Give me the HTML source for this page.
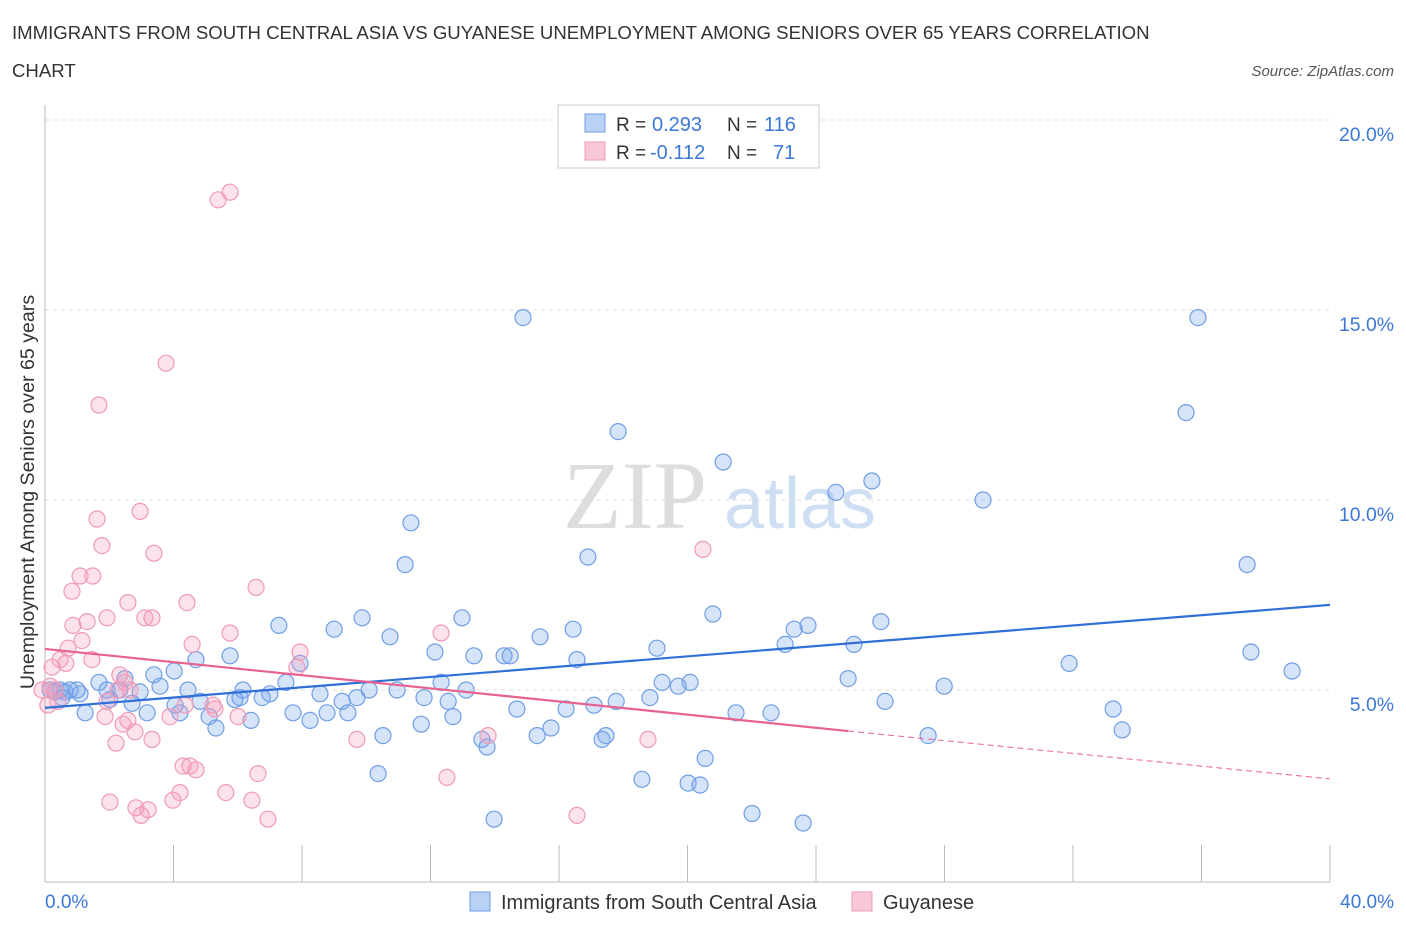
<!DOCTYPE html>
<html><head><meta charset="utf-8"><style>
body{margin:0;background:#fff;font-family:"Liberation Sans",sans-serif}
</style></head><body>
<svg width="1406" height="930" xmlns="http://www.w3.org/2000/svg">
<text x="12" y="39" font-size="18.6" fill="#333">IMMIGRANTS FROM SOUTH CENTRAL ASIA VS GUYANESE UNEMPLOYMENT AMONG SENIORS OVER 65 YEARS CORRELATION</text>
<text x="12" y="77" font-size="18.6" fill="#333">CHART</text>
<text x="1394" y="76" font-size="15" fill="#555" font-style="italic" text-anchor="end">Source: ZipAtlas.com</text>
<text x="635" y="528" font-size="96" fill="#ddd" font-family="Liberation Serif,serif" text-anchor="middle">ZIP</text>
<text x="800" y="528" font-size="72" fill="#cfdff3" text-anchor="middle">atlas</text>
<g id="grid"></g><g id="axes"></g><g id="pts"></g><g id="trend"></g>
<text transform="translate(34,492) rotate(-90)" font-size="19.6" fill="#333" text-anchor="middle">Unemployment Among Seniors over 65 years</text>
<text x="45" y="908" font-size="19" fill="#3b78d8">0.0%</text>
<text x="1394" y="908" font-size="19" fill="#3b78d8" text-anchor="end">40.0%</text>
<g>
<rect x="558" y="105" width="261" height="63" fill="#fff" stroke="#ccc"/>
<rect x="585" y="114" width="20" height="18" fill="#b9d1f5" stroke="#6f9ee6"/>
<text x="616" y="131" font-size="19" fill="#333">R =</text>
<text x="652" y="131" font-size="20" fill="#3b78d8">0.293</text>
<text x="727" y="131" font-size="19" fill="#333">N =</text>
<text x="764" y="131" font-size="20" fill="#3b78d8">116</text>
<rect x="585" y="142" width="20" height="18" fill="#f9c8d7" stroke="#f09ab5"/>
<text x="616" y="159" font-size="19" fill="#333">R =</text>
<text x="650" y="159" font-size="20" fill="#3b78d8">-0.112</text>
<text x="727" y="159" font-size="19" fill="#333">N =</text>
<text x="773" y="159" font-size="20" fill="#3b78d8">71</text>
</g>
<g>
<rect x="470" y="892" width="20" height="19" fill="#b9d1f5" stroke="#6f9ee6"/>
<text x="501" y="909" font-size="20" fill="#333">Immigrants from South Central Asia</text>
<rect x="852" y="892" width="20" height="19" fill="#f9c8d7" stroke="#f09ab5"/>
<text x="883" y="909" font-size="20" fill="#333">Guyanese</text>
</g>
</svg>
<script>
const yTicks=[5,10,15,20];
const xTicks=[0,4,8,12,16,20,24,28,32,36,40];
const blueX=[14.88,35.89,35.52,17.84,21.11,25.74,24.62,29.2,11.39,11.21,16.9,37.42,20.79,26.02,9.87,12.98,7.28,9.0,10.74,15.41,16.44,23.75,23.32,19.05,23.04,25.18,37.54,38.82,31.88,12.14,13.35,14.29,14.48,16.56,5.76,4.7,4.02,3.39,2.49,1.68,7.94,25.0,27.99,20.08,19.71,19.21,12.33,13.11,10.09,10.96,7.5,6.16,7.0,6.76,8.56,9.71,9.25,11.8,12.55,17.78,17.09,18.83,14.69,16.22,26.15,33.25,21.51,22.6,8.78,9.43,7.72,8.25,5.11,6.41,5.32,11.71,12.7,10.52,13.6,13.76,15.32,15.75,17.34,17.46,27.49,33.53,20.55,10.37,18.58,20.02,20.39,22.01,23.6,13.98,4.45,4.83,3.58,2.96,2.71,2.33,1.93,1.09,1.0,0.78,0.62,0.47,0.31,0.16,1.25,0.53,2.02,3.18,4.05,4.2,5.91,6.07];
const blueY=[14.8,14.8,12.3,11.8,11.0,10.5,10.2,10.0,9.4,8.3,8.5,8.3,7.0,6.8,6.9,6.9,6.7,6.6,6.4,6.4,6.6,6.7,6.6,6.1,6.2,6.2,6.0,5.5,5.7,6.0,5.9,5.9,5.9,5.8,5.9,5.8,5.5,5.4,5.3,5.2,5.7,5.3,5.1,5.2,5.1,5.2,5.2,5.0,5.0,5.0,5.2,5.0,4.9,4.8,4.9,4.8,4.7,4.8,4.7,4.7,4.6,4.8,4.5,4.5,4.7,4.5,4.4,4.4,4.4,4.4,4.4,4.2,4.3,4.2,4.0,4.1,4.3,3.8,3.7,3.5,3.8,4.0,3.7,3.8,3.8,3.95,3.2,2.8,2.65,2.55,2.5,1.75,1.5,1.6,5.0,4.7,5.1,4.95,4.65,5.0,5.0,4.9,5.0,5.0,4.95,5.0,4.95,5.0,4.4,4.8,4.75,4.4,4.6,4.4,4.75,4.8];
const pinkX=[5.39,5.76,3.77,1.68,2.96,1.62,3.39,1.77,20.48,6.57,1.09,1.49,0.84,2.58,4.42,1.93,3.11,3.33,1.31,0.87,5.76,12.33,4.58,1.15,0.72,0.47,7.94,1.46,7.84,0.65,2.33,2.49,0.22,0.31,0.4,2.27,2.65,0.09,1.87,2.58,3.89,6.01,5.23,1.93,2.8,2.43,4.36,3.33,2.21,9.71,13.79,18.77,4.3,4.51,4.7,6.63,12.51,5.63,6.44,2.02,3.98,4.2,2.83,3.21,2.99,6.94,16.56,-0.09,0.16,5.29];
const pinkY=[17.9,18.1,13.6,12.5,9.7,9.5,8.6,8.8,8.7,7.7,8.0,8.0,7.6,7.3,7.3,6.9,6.9,6.9,6.8,6.7,6.5,6.5,6.2,6.3,6.1,5.8,6.0,5.8,5.6,5.7,5.4,5.2,5.6,5.0,4.7,5.0,5.0,4.6,4.3,4.2,4.3,4.3,4.6,4.7,3.9,4.1,4.6,3.7,3.6,3.7,3.8,3.7,3.0,3.0,2.9,2.8,2.7,2.3,2.1,2.05,2.1,2.3,1.9,1.85,1.7,1.6,1.7,5.0,5.1,4.5];
const ns="http://www.w3.org/2000/svg";
const X0=45,X1=1330,Y0=880,YS=38;
function sx(v){return X0+(v/40)*(X1-X0);}
function sy(v){return Y0-v*YS;}
function mk(t,a,p){const e=document.createElementNS(ns,t);for(const k in a)e.setAttribute(k,a[k]);document.getElementById(p).appendChild(e);return e;}
yTicks.forEach(t=>{
 const l=mk('line',{x1:X0,x2:1330,y1:sy(t),y2:sy(t),stroke:'#ddd','stroke-dasharray':'4,4'},'grid');
 
 
 const tx=mk('text',{x:1394,y:sy(t)+21,'font-size':19.4,fill:'#3b78d8','text-anchor':'end'},'grid');
 tx.textContent=t.toFixed(1)+'%';
 
 
});
const ax=mk('line',{x1:X0,x2:X0,y1:105,y2:882,stroke:'#bbb'},'axes');


const bx=mk('line',{x1:X0,x2:1330,y1:882,y2:882,stroke:'#bbb'},'axes');


xTicks.forEach(t=>{
 const l=mk('line',{x1:sx(t),x2:sx(t),y1:845,y2:882,stroke:'#bbb'},'axes');
 
 
});
blueX.forEach((v,i)=>{
 const c=mk('circle',{cx:sx(v),cy:sy(blueY[i]),r:8,fill:'rgba(120,165,235,0.3)',stroke:'#6f9ee6','stroke-width':1.2},'pts');
 
 
});
pinkX.forEach((v,i)=>{
 const c=mk('circle',{cx:sx(v),cy:sy(pinkY[i]),r:8,fill:'rgba(245,160,190,0.3)',stroke:'#f09ab5','stroke-width':1.2},'pts');
 
 
});
const bt=mk('line',{x1:sx(0),y1:sy(4.53),x2:sx(40),y2:sy(7.24),stroke:'#2f6fd6','stroke-width':2.2},'trend');


const pt=mk('line',{x1:sx(0),y1:sy(6.08),x2:sx(25),y2:sy(3.92),stroke:'#e8628f','stroke-width':2.2},'trend');


const pd=mk('line',{x1:sx(25),y1:sy(3.92),x2:sx(40),y2:sy(2.66),stroke:'#e8628f','stroke-width':1,'stroke-dasharray':'6,4'},'trend');


</script>
</body></html>
